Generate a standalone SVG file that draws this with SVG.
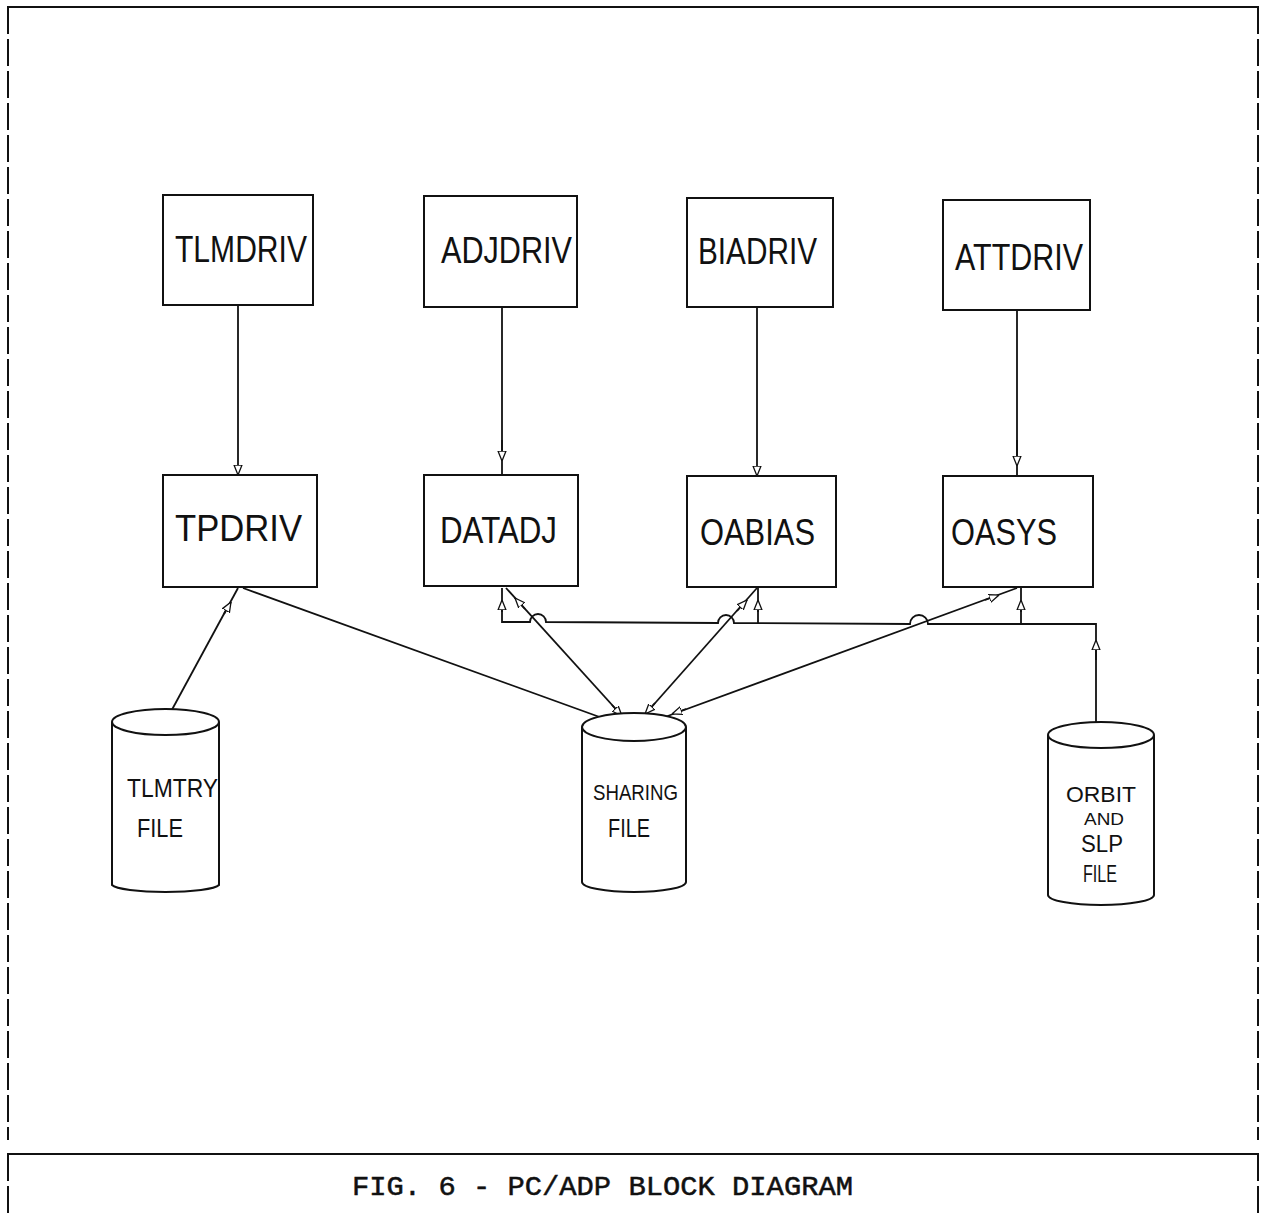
<svg xmlns="http://www.w3.org/2000/svg" width="1264" height="1214" viewBox="0 0 1264 1214">
<style>
.frame{fill:none;stroke:#111;stroke-width:2}
.dash{fill:none;stroke:#111;stroke-width:2;stroke-dasharray:27 5}
.box{fill:#fff;stroke:#111;stroke-width:2}
.cyl{fill:#fff;stroke:#111;stroke-width:2}
.hand{font-family:"Liberation Sans","DejaVu Sans",sans-serif;fill:#111;font-weight:normal}
.lbl{font-size:36px}
.small{font-size:26px}
.cap{font-family:"Liberation Mono","DejaVu Sans Mono",monospace;font-size:27px;fill:#111;stroke:#111;stroke-width:0.5}
.con{fill:none;stroke:#111;stroke-width:1.8}
</style>
<defs>
<marker id="arr" viewBox="0 0 10 10" refX="10" refY="5" markerWidth="10" markerHeight="10" markerUnits="userSpaceOnUse" orient="auto">
<path d="M0,1 L10,5 L0,9 Z" fill="#fff" stroke="#111" stroke-width="1.3"/>
</marker>
</defs>
<rect width="1264" height="1214" fill="#fff"/>

<g id="frame">
<line class="frame" x1="7" y1="7" x2="1259" y2="7"/>
<line class="dash" x1="8" y1="7" x2="8" y2="1140"/>
<line class="dash" x1="1258" y1="7" x2="1258" y2="1140"/>
<line class="frame" x1="7" y1="1154" x2="1259" y2="1154"/>
<line class="dash" x1="8" y1="1154" x2="8" y2="1214"/>
<line class="dash" x1="1258" y1="1154" x2="1258" y2="1214"/>
</g>

<g id="connectors">
<path class="con" d="M238,305 L238,475" marker-end="url(#arr)"/>
<path class="con" d="M502,307 L502,475"/>
<path class="con" d="M502,440 L502,461" marker-end="url(#arr)"/>
<path class="con" d="M757,307 L757,476" marker-end="url(#arr)"/>
<path class="con" d="M1017,310 L1017,476"/>
<path class="con" d="M1017,440 L1017,466" marker-end="url(#arr)"/>
<path class="con" d="M168,717 L238,588"/>
<path class="con" d="M224,614 L231,602" marker-end="url(#arr)"/>
<path class="con" d="M243,588 L630,728"/>
<path class="con" d="M600,717 L616,723" marker-end="url(#arr)"/>
<path class="con" d="M506,588 L633,728"/>
<path class="con" d="M525,609 L515,598" marker-end="url(#arr)"/>
<path class="con" d="M612,705 L622,716" marker-end="url(#arr)"/>
<path class="con" d="M757,588 L633,728"/>
<path class="con" d="M737,611 L747,600" marker-end="url(#arr)"/>
<path class="con" d="M655,703 L645,714" marker-end="url(#arr)"/>
<path class="con" d="M1017,588 L665,717"/>
<path class="con" d="M985,600 L999,595" marker-end="url(#arr)"/>
<path class="con" d="M686,709 L672,714" marker-end="url(#arr)"/>
<path class="con" d="M1096,738 L1096,624 L928,624 A9,9 0 0 0 910,624 L734,623 A8,8 0 0 0 718,623 L546,622 A8,8 0 0 0 530,622 L502,622 L502,588"/>
<path class="con" d="M1096,660 L1096,640" marker-end="url(#arr)"/>
<path class="con" d="M502,612 L502,600" marker-end="url(#arr)"/>
<path class="con" d="M758,623 L758,588"/>
<path class="con" d="M758,612 L758,600" marker-end="url(#arr)"/>
<path class="con" d="M1021,624 L1021,588"/>
<path class="con" d="M1021,612 L1021,600" marker-end="url(#arr)"/>
</g>

<g id="n-tlmdriv"><rect class="box" x="163" y="195" width="150" height="110"/><text class="hand lbl" x="175" y="262" textLength="132" lengthAdjust="spacingAndGlyphs">TLMDRIV</text></g>
<g id="n-adjdriv"><rect class="box" x="424" y="196" width="153" height="111"/><text class="hand lbl" x="441" y="263" textLength="131" lengthAdjust="spacingAndGlyphs">ADJDRIV</text></g>
<g id="n-biadriv"><rect class="box" x="687" y="198" width="146" height="109"/><text class="hand lbl" x="698" y="264" textLength="119" lengthAdjust="spacingAndGlyphs">BIADRIV</text></g>
<g id="n-attdriv"><rect class="box" x="943" y="200" width="147" height="110"/><text class="hand lbl" x="955" y="270" textLength="128" lengthAdjust="spacingAndGlyphs">ATTDRIV</text></g>

<g id="n-tpdriv"><rect class="box" x="163" y="475" width="154" height="112"/><text class="hand lbl" x="175" y="541" textLength="127" lengthAdjust="spacingAndGlyphs">TPDRIV</text></g>
<g id="n-datadj"><rect class="box" x="424" y="475" width="154" height="111"/><text class="hand lbl" x="440" y="543" textLength="117" lengthAdjust="spacingAndGlyphs">DATADJ</text></g>
<g id="n-oabias"><rect class="box" x="687" y="476" width="149" height="111"/><text class="hand lbl" x="700" y="545" textLength="115" lengthAdjust="spacingAndGlyphs">OABIAS</text></g>
<g id="n-oasys"><rect class="box" x="943" y="476" width="150" height="111"/><text class="hand lbl" x="951" y="545" textLength="106" lengthAdjust="spacingAndGlyphs">OASYS</text></g>

<g id="n-tlmtry">
<path class="cyl" d="M112,722 L112,885 A54,8 0 0 0 219,885 L219,722"/>
<ellipse class="cyl" cx="165.5" cy="722" rx="53.5" ry="13"/>
<text class="hand small" x="127" y="797" textLength="91" lengthAdjust="spacingAndGlyphs">TLMTRY</text>
<text class="hand small" x="137" y="837" textLength="46" lengthAdjust="spacingAndGlyphs">FILE</text>
</g>
<g id="n-sharing">
<path class="cyl" d="M582,727 L582,882 A52,10 0 0 0 686,882 L686,727"/>
<ellipse class="cyl" cx="634" cy="727" rx="52" ry="14"/>
<text class="hand" style="font-size:22px" x="593" y="800" textLength="85" lengthAdjust="spacingAndGlyphs">SHARING</text>
<text class="hand small" x="608" y="837" textLength="42" lengthAdjust="spacingAndGlyphs">FILE</text>
</g>
<g id="n-orbit">
<path class="cyl" d="M1048,735 L1048,895 A53,10 0 0 0 1154,895 L1154,735"/>
<ellipse class="cyl" cx="1101" cy="735" rx="53" ry="13"/>
<text class="hand" style="font-size:22px" x="1066" y="802" textLength="70" lengthAdjust="spacingAndGlyphs">ORBIT</text>
<text class="hand" style="font-size:16px" x="1084" y="825" textLength="40" lengthAdjust="spacingAndGlyphs">AND</text>
<text class="hand" style="font-size:24px" x="1081" y="852" textLength="42" lengthAdjust="spacingAndGlyphs">SLP</text>
<text class="hand" style="font-size:24px" x="1083" y="882" textLength="34" lengthAdjust="spacingAndGlyphs">FILE</text>
</g>

<g id="caption">
<text class="cap" x="352" y="1195" textLength="501" lengthAdjust="spacingAndGlyphs">FIG. 6 - PC/ADP BLOCK DIAGRAM</text>
</g>
</svg>
